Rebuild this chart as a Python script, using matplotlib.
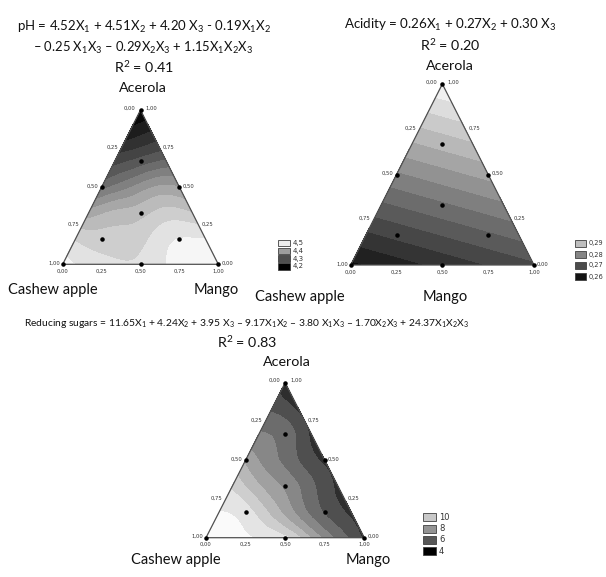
import numpy as np
import matplotlib
matplotlib.use('Agg')
import matplotlib.pyplot as plt
import matplotlib.tri as mtri
from matplotlib.colors import Normalize, PowerNorm
from matplotlib.patches import Rectangle

plt.rcParams['font.family'] = ['Lato', 'DejaVu Sans']
plt.rcParams['mathtext.fontset'] = 'custom'
plt.rcParams['mathtext.rm'] = 'Lato'
plt.rcParams['mathtext.it'] = 'Lato:italic'
plt.rcParams['mathtext.bf'] = 'Lato:bold'

# ternary grid (step 1/6): rows by acerola fraction, within a row mango goes 0 -> max
N = 6
# pH values
ph_rows = [
    [4.51, 4.49, 4.48, 4.48, 4.50, 4.51, 4.52],
    [4.47, 4.46, 4.46, 4.48, 4.50, 4.50],
    [4.41, 4.43, 4.44, 4.46, 4.45],
    [4.34, 4.37, 4.40, 4.40],
    [4.29, 4.31, 4.33],
    [4.24, 4.26],
    [4.20],
]
# reducing sugars
rs_rows = [
    [12.0, 11.8, 11.5, 10.9, 8.8, 6.8, 5.1],
    [11.6, 11.1, 9.5, 7.7, 6.1, 5.1],
    [10.5, 9.0, 7.8, 6.4, 5.1],
    [8.7, 7.4, 6.2, 5.1],
    [7.2, 6.7, 5.1],
    [6.0, 5.1],
    [5.0],
]
# acidity: linear model, vertex values (cashew, mango, acerola)
acid_vertices = [0.26, 0.27, 0.30]

# design points (cashew, mango, acerola)
design = [
    (1, 0, 0), (0, 1, 0), (0, 0, 1),
    (0.5, 0.5, 0), (0.5, 0, 0.5), (0, 0.5, 0.5),
    (1/3, 1/3, 1/3),
    (2/3, 1/6, 1/6), (1/6, 2/3, 1/6), (1/6, 1/6, 2/3),
]

ph_legend = [4.5, 4.4, 4.3, 4.2]
ph_legend_txt = ['4,5', '4,4', '4,3', '4,2']
acid_legend = [0.29, 0.28, 0.27, 0.26]
acid_legend_txt = ['0,29', '0,28', '0,27', '0,26']
rs_legend = [10, 8, 6, 4]
rs_legend_txt = ['10', '8', '6', '4']

tick_vals = [0.0, 0.25, 0.5, 0.75, 1.0]

W, H = 606, 577
fig = plt.figure(figsize=(W / 100, H / 100), dpi=100)


def fx(x):
    return x / W


def fy(y):
    return 1 - y / H


def cart(cashew, mango, acerola):
    return mango + acerola / 2, acerola


def grid_field(rows):
    xs, ys, zs = [], [], []
    for j, row in enumerate(rows):
        for i, v in enumerate(row):
            x, y = cart(0, i / N, j / N)
            xs.append(x)
            ys.append(y)
            zs.append(v)
    return np.array(xs), np.array(ys), np.array(zs)


def panel(box, x, y, z, levels, norm, refine=True):
    left, right, top, bottom = box
    ax = fig.add_axes([fx(left), fy(bottom), fx(right - left), (bottom - top) / H])
    ax.set_xlim(0, 1)
    ax.set_ylim(0, 1)
    ax.axis('off')
    tr = mtri.Triangulation(x, y)
    if refine:
        tr, z = mtri.UniformTriRefiner(tr).refine_field(z, subdiv=4)
    ax.tricontourf(tr, z, levels=levels, cmap='gray', norm=norm, extend='both')
    ax.plot([0, 1, 0.5, 0], [0, 0, 1, 0], color='#505050', lw=0.9, clip_on=False)
    px, py = zip(*[cart(*d) for d in design])
    ax.scatter(px, py, s=5, color='black', zorder=5, clip_on=False)
    tkw = dict(fontsize=3.8, family='DejaVu Sans', color='#333333',
               textcoords='offset pixels', va='center')
    for t in tick_vals:
        lab = f'{t:.2f}'.replace('.', ',')
        # left edge: cashew fraction
        xa, ya = cart(t, 0, 1 - t)
        dx, dy = (-5, 2) if t == 0 else (-3, 1)
        ax.annotate(lab, (xa, ya), xytext=(dx, dy), ha='right', **tkw)
        # right edge: acerola fraction
        xa, ya = cart(0, 1 - t, t)
        dx, dy = (5, 2) if t == 1 else (3, 1)
        ax.annotate(lab, (xa, ya), xytext=(dx, dy), ha='left', **tkw)
        # bottom: mango fraction
        xa, ya = cart(1 - t, t, 0)
        ax.annotate(lab, (xa, ya), xytext=(0, -7), ha='center', **tkw)
    return ax


def legend(x0, tops, w, h, vals, labels, norm, fs):
    cmap = plt.get_cmap('gray')
    for top, v, lab in zip(tops, vals, labels):
        fig.patches.append(Rectangle((fx(x0), fy(top + h)), w / W, h / H,
                                     transform=fig.transFigure,
                                     facecolor=cmap(norm(v)), edgecolor='#404040', lw=0.6))
        fig.text(fx(x0 + w + 3), fy(top + h / 2), lab, fontsize=fs,
                 family='DejaVu Sans', color='#333333', va='center', ha='left')


def label(x, y, s, fs=10.3):
    fig.text(fx(x), fy(y), s, fontsize=fs, ha='center', va='center', color='#111111')


# pH
ph_norm = Normalize(4.2, 4.525)
x, y, z = grid_field(ph_rows)
panel((62.7, 218.3, 110, 264.3), x, y, z, np.arange(4.175, 4.56, 0.025), ph_norm)
legend(278, [240, 247.7, 255.4, 263.1], 12, 6.5, ph_legend, ph_legend_txt, ph_norm, 5)
label(144, 27, r'pH = 4.52X$_1$ + 4.51X$_2$ + 4.20 X$_3$ - 0.19X$_1$X$_2$', 9.5)
label(143, 48, r'– 0.25 X$_1$X$_3$ – 0.29X$_2$X$_3$ + 1.15X$_1$X$_2$X$_3$', 9.4)
label(144, 67, r'R$^2$ = 0.41')
label(143, 88, 'Acerola')
label(53, 290, 'Cashew apple', 10.5)
label(216, 290, 'Mango', 10.5)

# acidity
acid_norm = Normalize(0.2565, 0.3015)
ax_c, ay_c = zip(cart(1, 0, 0), cart(0, 1, 0), cart(0, 0, 1))
panel((350.7, 534, 84, 265), np.array(ax_c), np.array(ay_c), np.array(acid_vertices),
      np.arange(0.2575, 0.3030, 0.0033), acid_norm, refine=False)
legend(575, [240, 251, 262, 273], 11, 7, acid_legend, acid_legend_txt, acid_norm, 4.8)
label(450, 25, r'Acidity = 0.26X$_1$ + 0.27X$_2$ + 0.30 X$_3$', 9.6)
label(450, 45, r'R$^2$ = 0.20')
label(450, 66, 'Acerola')
label(300, 297, 'Cashew apple', 10.5)
label(445, 297, 'Mango', 10.5)

# reducing sugars
rs_norm = PowerNorm(0.75, vmin=4, vmax=12.3)
x, y, z = grid_field(rs_rows)
panel((206, 364.3, 382.7, 537.7), x, y, z, np.arange(3.5, 13.5, 0.9), rs_norm)
legend(423, [513, 524.5, 535.5, 547], 13, 8, rs_legend, rs_legend_txt, rs_norm, 6)
label(247, 323, r'Reducing sugars = 11.65X$_1$ + 4.24X$_2$ + 3.95 X$_3$ – 9.17X$_1$X$_2$ – 3.80 X$_1$X$_3$ – 1.70X$_2$X$_3$ + 24.37X$_1$X$_2$X$_3$', 7.4)
label(247, 342, r'R$^2$ = 0.83')
label(287, 362, 'Acerola')
label(176, 560, 'Cashew apple', 10.5)
label(368, 560, 'Mango', 10.5)

fig.savefig('out.png', dpi=100, facecolor='white')
